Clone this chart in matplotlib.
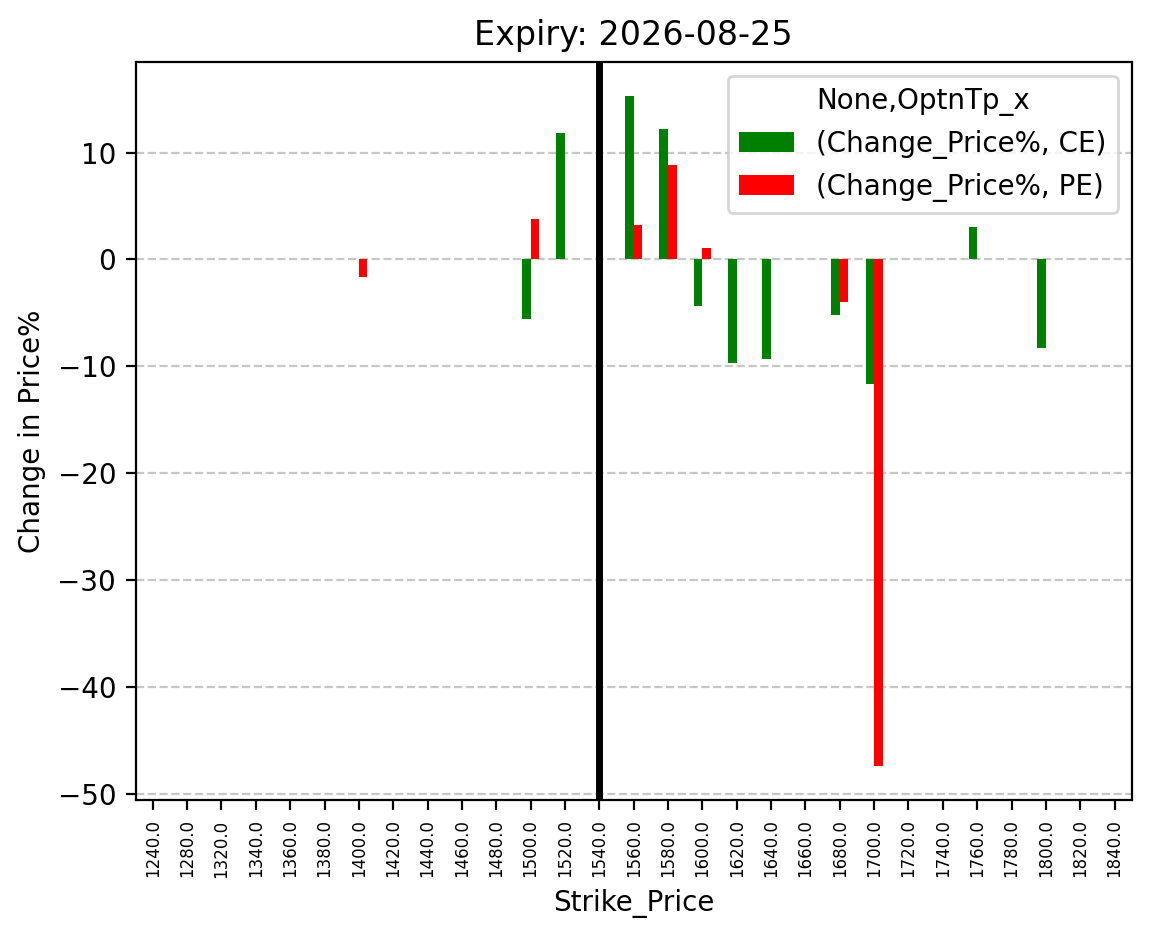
import numpy as np
import matplotlib
matplotlib.use("Agg")
import matplotlib.pyplot as plt

strikes = [1240, 1280, 1320, 1340, 1360, 1380, 1400, 1420, 1440, 1460, 1480, 1500,
           1520, 1540, 1560, 1580, 1600, 1620, 1640, 1660, 1680, 1700, 1720, 1740,
           1760, 1780, 1800, 1820, 1840]
nan = np.nan
ce_change = [nan, nan, nan, nan, nan, nan, nan, nan, nan, nan, nan, -5.58,
             11.78, nan, 15.33, 12.24, -4.36, -9.69, -9.31, nan, -5.2, -11.65, nan, nan,
             3.08, nan, -8.29, nan, nan]
pe_change = [nan, nan, nan, nan, nan, nan, -1.65, nan, nan, nan, nan, 3.74,
             nan, nan, 3.27, 8.88, 1.12, nan, nan, nan, -3.99, -47.4, nan, nan,
             nan, nan, nan, nan, nan]
spot_strike = 1540
title = "Expiry: 2026-08-25"

fig = plt.figure(figsize=(1149/200, 939/200), dpi=200)
ax = fig.add_axes([0.118, 0.148, 0.867, 0.786])

x = np.arange(len(strikes))
w = 0.25
ax.bar(x - w/2, ce_change, width=w, color='green', label='(Change_Price%, CE)')
ax.bar(x + w/2, pe_change, width=w, color='red', label='(Change_Price%, PE)')
ax.set_xlim(-0.5, len(strikes) - 0.5)
ax.set_xticks(x)
ax.set_xticklabels([f"{s:.1f}" for s in strikes], rotation=90, fontsize=6)
ax.axvline(strikes.index(spot_strike), color='black', linewidth=2.5)
ax.grid(axis='y', linestyle='--', alpha=0.7)
ax.set_axisbelow(True)
ax.set_title(title, fontsize=12)
ax.set_xlabel("Strike_Price")
ax.set_ylabel("Change in Price%")
ax.legend(title="None,OptnTp_x", loc='upper right')

fig.savefig("out.png", dpi=200)
